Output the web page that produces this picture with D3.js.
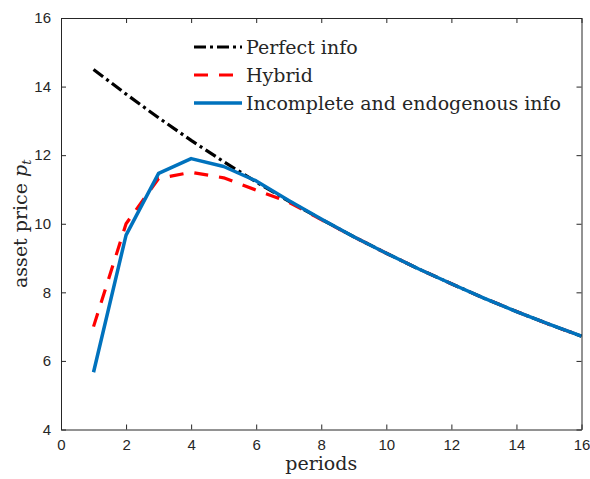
<!DOCTYPE html>
<html>
<head>
<meta charset="utf-8">
<script src="https://cdn.jsdelivr.net/npm/d3@7"></script>
<style>
  body { margin: 0; background: #fff; }
  text { fill: #262626; }
</style>
</head>
<body>
<div id="chart"></div>
<script>
// values
const periods = [1, 2, 3, 4, 5, 6, 7, 8, 9, 10, 11, 12, 13, 14, 15, 16];
const perfectInfo = [14.5, 13.78, 13.09, 12.43, 11.81, 11.22, 10.66, 10.13, 9.62, 9.14, 8.68, 8.25, 7.83, 7.44, 7.07, 6.72];
const hybrid = [7.0, 10.0, 11.32, 11.5, 11.34, 10.98, 10.63, 10.12, 9.62, 9.14, 8.68, 8.25, 7.83, 7.44, 7.07, 6.72];
const incomplete = [5.67, 9.67, 11.47, 11.9, 11.67, 11.25, 10.68, 10.14, 9.62, 9.14, 8.68, 8.25, 7.83, 7.44, 7.07, 6.72];
const xTicks = [0, 2, 4, 6, 8, 10, 12, 14, 16];
const yTicks = [4, 6, 8, 10, 12, 14, 16];
const seriesNames = ['Perfect info', 'Hybrid', 'Incomplete and endogenous info'];

const width = 590, height = 479;
const margin = { top: 18, right: 8.5, bottom: 49.5, left: 61 };

const svg = d3.select('#chart').append('svg')
  .attr('width', width)
  .attr('height', height);

const x = d3.scaleLinear().domain([0, 16]).range([margin.left, width - margin.right]);
const y = d3.scaleLinear().domain([4, 16]).range([height - margin.bottom, margin.top]);

const series = [
  { name: seriesNames[0], values: perfectInfo, color: '#000000', width: 3.2, dash: '12,4,3,4' },
  { name: seriesNames[1], values: hybrid, color: '#ff0000', width: 3.2, dash: '14,11' },
  { name: seriesNames[2], values: incomplete, color: '#0072bd', width: 3.5, dash: null }
];

const line = d3.line()
  .x((d, i) => x(periods[i]))
  .y(d => y(d));

// lines
svg.selectAll('.series')
  .data(series)
  .enter().append('path')
  .attr('class', 'series')
  .attr('fill', 'none')
  .attr('stroke', d => d.color)
  .attr('stroke-width', d => d.width)
  .attr('stroke-dasharray', d => d.dash)
  .attr('stroke-linejoin', 'round')
  .attr('d', d => line(d.values));

// axes with inward ticks, box style
const axisColor = '#262626';
const tickFont = '15px "Liberation Sans", Arial, sans-serif';

const xAxis = svg.append('g')
  .attr('transform', `translate(0,${y(4)})`)
  .call(d3.axisBottom(x).tickValues(xTicks).tickSizeInner(-5).tickSizeOuter(0).tickPadding(10));
const xTop = svg.append('g')
  .attr('transform', `translate(0,${y(16)})`)
  .call(d3.axisTop(x).tickValues(xTicks).tickSizeInner(-5).tickSizeOuter(0).tickFormat(''));
const yAxis = svg.append('g')
  .attr('transform', `translate(${x(0)},0)`)
  .call(d3.axisLeft(y).tickValues(yTicks).tickSizeInner(-5).tickSizeOuter(0).tickPadding(10));
const yRight = svg.append('g')
  .attr('transform', `translate(${x(16)},0)`)
  .call(d3.axisRight(y).tickValues(yTicks).tickSizeInner(-5).tickSizeOuter(0).tickFormat(''));

[xAxis, xTop, yAxis, yRight].forEach(g => {
  g.selectAll('path').attr('stroke', axisColor).attr('stroke-width', 1);
  g.selectAll('line').attr('stroke', axisColor).attr('stroke-width', 1);
  g.selectAll('text').style('font', tickFont).attr('fill', axisColor);
});

// axis labels
const serif = '"DejaVu Serif", "Liberation Serif", serif';
svg.append('text')
  .attr('x', (x(0) + x(16)) / 2)
  .attr('y', 470)
  .attr('text-anchor', 'middle')
  .style('font-family', serif)
  .style('font-size', '19px')
  .text('periods');

const yl = svg.append('text')
  .attr('transform', `translate(27,${(y(4) + y(16)) / 2}) rotate(-90)`)
  .attr('text-anchor', 'middle')
  .style('font-family', serif)
  .style('font-size', '19px');
yl.append('tspan').text('asset price ');
yl.append('tspan').style('font-style', 'italic').text('p');
yl.append('tspan').style('font-style', 'italic').style('font-size', '13px').attr('dy', 4).text('t');

// legend
const legend = svg.append('g').attr('class', 'legend');
const legendRow = legend.selectAll('g')
  .data(series)
  .enter().append('g')
  .attr('transform', (d, i) => `translate(194,${47 + i * 28})`);
legendRow.append('line')
  .attr('x1', 0).attr('x2', 48)
  .attr('y1', 0).attr('y2', 0)
  .attr('stroke', d => d.color)
  .attr('stroke-width', d => d.width)
  .attr('stroke-dasharray', d => d.dash);
legendRow.append('text')
  .attr('x', 52)
  .attr('y', 6.5)
  .style('font-family', serif)
  .style('font-size', '19px')
  .text(d => d.name);
</script>
</body>
</html>
